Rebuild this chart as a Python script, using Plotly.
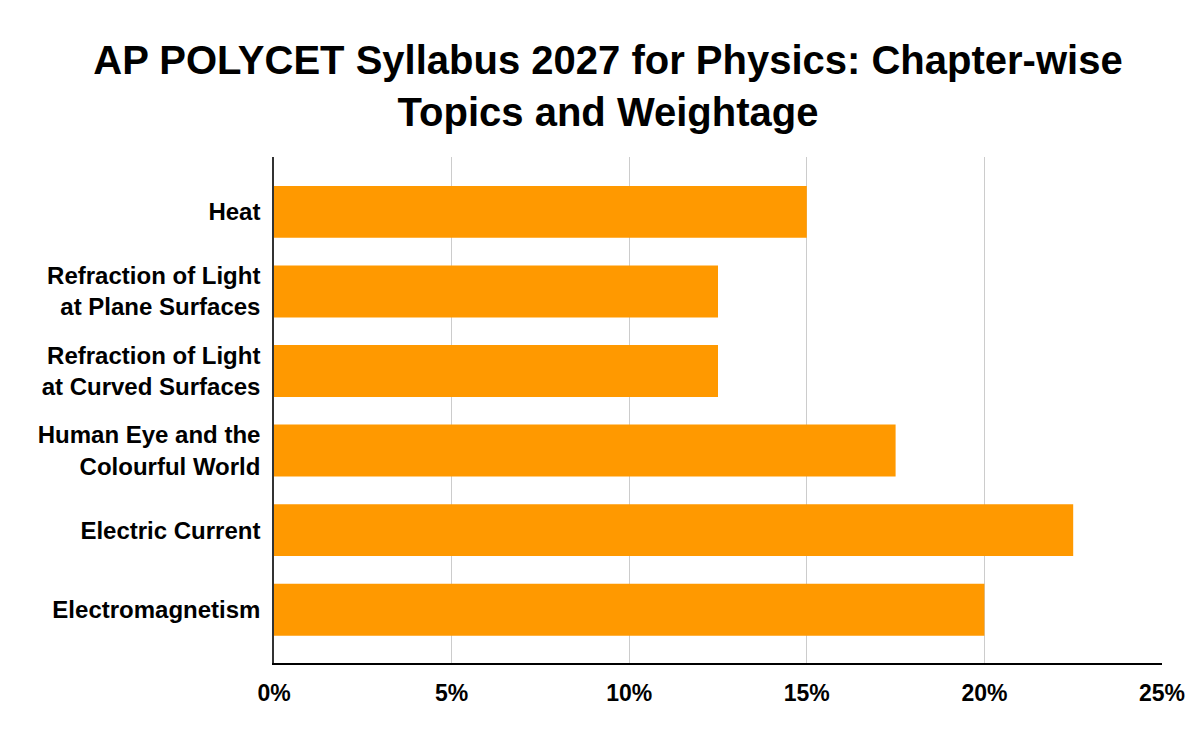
import plotly.graph_objects as go

chapters = [
    "Heat",
    "Refraction of Light<br>at Plane Surfaces",
    "Refraction of Light<br>at Curved Surfaces",
    "Human Eye and the<br>Colourful World",
    "Electric Current",
    "Electromagnetism",
]
weightage = [0.15, 0.125, 0.125, 0.175, 0.225, 0.20]

fig = go.Figure(go.Bar(
    x=weightage,
    y=chapters,
    orientation="h",
    marker=dict(color="#ff9900", line_width=0),
))

# page has an 8px body margin, so margins are shifted to line up with the reference
fig.update_layout(
    width=1200,
    height=742,
    plot_bgcolor="white",
    paper_bgcolor="white",
    font=dict(family="Liberation Sans, Arial, sans-serif", color="black"),
    title=dict(
        text="<b>AP POLYCET Syllabus 2027 for Physics: Chapter-wise<br>Topics and Weightage</b>",
        x=0.5, xanchor="center",
        y=0.911, yanchor="middle",
        font=dict(size=40, color="black"),
    ),
    margin=dict(l=266, r=46, t=149, b=87),
    bargap=0.347,
    showlegend=False,
)
fig.update_xaxes(
    range=[0, 0.25],
    dtick=0.05,
    tickformat=".0%",
    showgrid=True, gridcolor="#cccccc", gridwidth=1,
    showline=True, linecolor="black", linewidth=2,
    zeroline=False,
    ticks="", ticklabelstandoff=8,
    tickfont=dict(size=23, weight="bold"),
)
fig.update_yaxes(
    range=[5.67, -0.69],
    showline=True, linecolor="#333333", linewidth=1.5,
    showgrid=False,
    ticks="", ticklabelstandoff=7,
    tickfont=dict(size=24, weight="bold"),
)

fig.write_html("out.html")
